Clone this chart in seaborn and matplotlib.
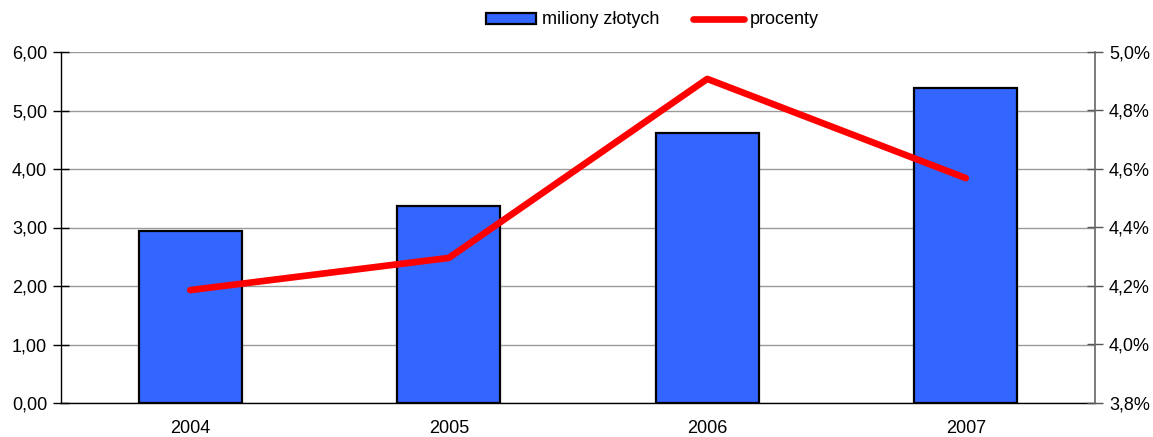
import numpy as np
import pandas as pd
import matplotlib
matplotlib.use("Agg")
import matplotlib.pyplot as plt
from matplotlib.patches import Patch
from matplotlib.lines import Line2D
from matplotlib.ticker import FixedLocator, FuncFormatter
import seaborn as sns

years = ["2004", "2005", "2006", "2007"]
mln_zl = [2.94, 3.37, 4.62, 5.39]
procenty = [4.186, 4.296, 4.908, 4.569]
left_ticks = [0, 1, 2, 3, 4, 5, 6]
right_ticks = [3.8, 4.0, 4.2, 4.4, 4.6, 4.8, 5.0]

sns.set_style("white")
plt.rcParams['font.family'] = ['Liberation Sans', 'DejaVu Sans']
plt.rcParams['text.color'] = 'black'
FS = 13

fig = plt.figure(figsize=(11.53, 4.37), dpi=100)
ax = fig.add_axes([61/1153, 1-403/437, (1095-61)/1153, (403-52)/437])

df = pd.DataFrame({"rok": years, "val": mln_zl})
sns.barplot(data=df, x="rok", y="val", ax=ax, color="#3366FF", saturation=1,
            width=0.4, edgecolor="black", linewidth=1.6, zorder=3)
ax.set_xlim(-0.5, len(years) - 0.5)
ax.set_ylim(0, 6)
ax.yaxis.set_major_locator(FixedLocator(left_ticks))
ax.yaxis.set_major_formatter(FuncFormatter(lambda v, p: f"{v:.2f}".replace(".", ",")))
ax.grid(axis="y", color="#9a9a9a", linewidth=1, zorder=0)
ax.set_axisbelow(True)
ax.set_xlabel("")
ax.set_ylabel("")
ax.tick_params(axis="y", direction="inout", length=12, width=1, color="black",
               labelsize=FS, labelcolor="black", pad=4)
ax.tick_params(axis="x", which="major", length=0, labelsize=FS, labelcolor="black", pad=12)
ax.set_xticks(np.arange(-0.5, len(years), 1), minor=True)
ax.tick_params(axis="x", which="minor", direction="out", length=7, width=1, color="#444444")
for s in ["top", "right"]:
    ax.spines[s].set_visible(False)
ax.spines["left"].set_color("black")
ax.spines["bottom"].set_color("black")
ax.spines["left"].set_linewidth(1)
ax.spines["bottom"].set_linewidth(1)

ax2 = ax.twinx()
sns.lineplot(x=np.arange(len(years)), y=procenty, ax=ax2, color="#FF0000",
             linewidth=4.8, solid_capstyle="round", zorder=4)
ax2.set_ylim(3.8, 5.0)
ax2.yaxis.set_major_locator(FixedLocator(right_ticks))
ax2.yaxis.set_major_formatter(FuncFormatter(lambda v, p: f"{v:.1f}".replace(".", ",") + "%"))
ax2.tick_params(axis="y", direction="inout", length=12, width=1, color="#555555",
                labelsize=FS, labelcolor="black", pad=4)
for s in ["top", "left", "bottom"]:
    ax2.spines[s].set_visible(False)
ax2.spines["right"].set_color("#666666")
ax2.spines["right"].set_linewidth(1.2)
ax2.set_ylabel("")

handles = [Patch(facecolor="#3366FF", edgecolor="black", linewidth=1.6),
           Line2D([0], [0], color="#FF0000", linewidth=4.8, solid_capstyle="round")]
fig.legend(handles, ["miliony złotych", "procenty"], loc="center",
           bbox_to_anchor=(652/1153, 1-20/437), ncol=2, frameon=False,
           fontsize=FS, handlelength=2.8, handleheight=0.55, handletextpad=0.3,
           columnspacing=1.9)

fig.savefig("out.png", dpi=100)
